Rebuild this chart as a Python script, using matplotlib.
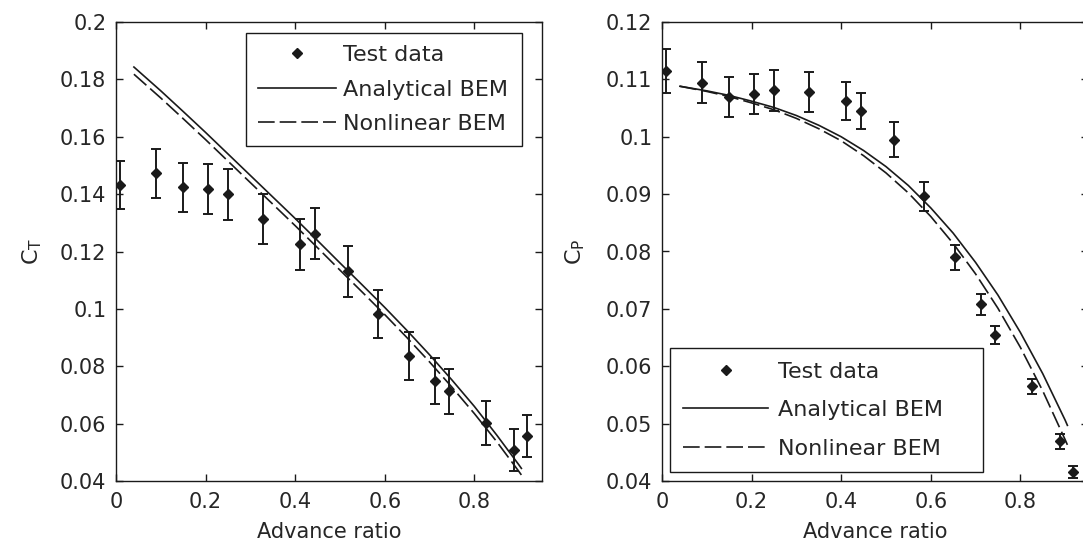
import matplotlib
matplotlib.use('Agg')
import matplotlib.pyplot as plt
from matplotlib.lines import Line2D
from matplotlib.ticker import FormatStrFormatter, MultipleLocator

plt.rcParams['font.family'] = ['DejaVu Sans']
plt.rcParams['font.size'] = 15
plt.rcParams['mathtext.default'] = 'regular'

# test data (advance ratio, coefficients, error half-widths)
adv_ratio = [0.008, 0.09, 0.15, 0.206, 0.251, 0.329, 0.41, 0.445, 0.517, 0.585,
             0.653, 0.713, 0.743, 0.826, 0.889, 0.918]
ct_test = [0.1432, 0.1472, 0.1424, 0.1418, 0.1399, 0.1313, 0.1225, 0.1262, 0.1131, 0.0983,
           0.0836, 0.0749, 0.0712, 0.0603, 0.0508, 0.0557]
ct_err = [0.0083, 0.0086, 0.0085, 0.0086, 0.0089, 0.0086, 0.0090, 0.0088, 0.0088, 0.0083,
          0.0085, 0.0081, 0.0080, 0.0077, 0.0073, 0.0073]
cp_test = [0.1115, 0.1094, 0.1069, 0.1074, 0.1081, 0.1078, 0.1062, 0.1045, 0.0995, 0.0896,
           0.0790, 0.0708, 0.0655, 0.0565, 0.0469, 0.0416]
cp_err = [0.0038, 0.0036, 0.0035, 0.0035, 0.0036, 0.0035, 0.0033, 0.0032, 0.0030, 0.0026,
          0.0022, 0.0018, 0.0016, 0.0013, 0.0013, 0.0011]

# BEM predictions
bem_ratio = [0.04, 0.1, 0.15, 0.2, 0.25, 0.3, 0.35, 0.4, 0.45, 0.5, 0.55, 0.6, 0.65, 0.7,
             0.75, 0.8, 0.85, 0.9, 0.905]
ct_analytical = [0.1843, 0.1760, 0.1688, 0.1615, 0.1540, 0.1465, 0.1390, 0.1315, 0.1238, 0.1160,
                 0.1083, 0.1005, 0.0924, 0.0840, 0.0752, 0.0660, 0.0560, 0.0455, 0.0444]
ct_nonlinear = [0.1818, 0.1735, 0.1663, 0.1590, 0.1515, 0.1440, 0.1365, 0.1290, 0.1213, 0.1135,
                0.1058, 0.0980, 0.0899, 0.0815, 0.0727, 0.0635, 0.0537, 0.0432, 0.0421]
cp_analytical = [0.1088, 0.1080, 0.1072, 0.1062, 0.1051, 0.1037, 0.1020, 0.1000, 0.0976, 0.0948,
                 0.0915, 0.0876, 0.0832, 0.0781, 0.0724, 0.0659, 0.0587, 0.0506, 0.0497]
cp_nonlinear = [0.1088, 0.1079, 0.1070, 0.1059, 0.1047, 0.1032, 0.1014, 0.0993, 0.0967, 0.0937,
                0.0902, 0.0861, 0.0814, 0.0761, 0.0701, 0.0633, 0.0557, 0.0472, 0.0463]

labels = ['Test data', 'Analytical BEM', 'Nonlinear BEM']
ink = '#1a1a1a'
txt = '#262626'

W, H = 1083, 547
fig = plt.figure(figsize=(W / 100, H / 100), dpi=100)
ax1 = fig.add_axes([116 / W, (H - 481) / H, 426 / W, 459 / H])
ax2 = fig.add_axes([662 / W, (H - 481) / H, 426 / W, 459 / H])


def draw(ax, test, err, ana, nonlin):
    ax.plot(bem_ratio, ana, color=ink, lw=1.2)
    ax.plot(bem_ratio, nonlin, color=ink, lw=1.2, dashes=[10, 3])
    ax.errorbar(adv_ratio, test, yerr=err, fmt='D', ms=4.8, color=ink, mfc=ink,
                ecolor=ink, elinewidth=1.4, capsize=3.5, capthick=1.4)
    ax.set_xlim(0, 0.951)
    ax.xaxis.set_major_locator(MultipleLocator(0.2))
    ax.xaxis.set_major_formatter(FormatStrFormatter('%g'))
    ax.yaxis.set_major_formatter(FormatStrFormatter('%g'))
    ax.tick_params(direction='in', top=True, right=True, length=5, width=1.0,
                   colors=ink, labelcolor=txt, labelsize=15)
    ax.tick_params(axis='x', pad=8)
    ax.tick_params(axis='y', pad=7)
    for s in ax.spines.values():
        s.set_color(ink)
        s.set_linewidth(1.0)
    ax.set_xlabel('Advance ratio', color=txt, labelpad=7)


draw(ax1, ct_test, ct_err, ct_analytical, ct_nonlinear)
ax1.set_ylim(0.04, 0.2)
ax1.yaxis.set_major_locator(MultipleLocator(0.02))
ax1.set_ylabel('$C_T$', color=txt, fontsize=16)
ax1.yaxis.set_label_coords(-0.17, 0.5)

draw(ax2, cp_test, cp_err, cp_analytical, cp_nonlinear)
ax2.set_ylim(0.04, 0.12)
ax2.yaxis.set_major_locator(MultipleLocator(0.01))
ax2.set_ylabel('$C_P$', color=txt, fontsize=16)
ax2.yaxis.set_label_coords(-0.176, 0.5)


def handles():
    return [Line2D([], [], ls='none', marker='D', ms=4.8, color=ink),
            Line2D([], [], color=ink, lw=1.2),
            Line2D([], [], color=ink, lw=1.2, dashes=[10, 3])]


leg1 = ax1.legend(handles(), labels, loc='upper right', bbox_to_anchor=(0.3052, 0, 0.648, 0.976),
                  mode='expand', borderaxespad=0, fancybox=False, framealpha=1, edgecolor=ink,
                  handlelength=3.5, handletextpad=0.3, labelspacing=0.65, borderpad=0.55,
                  fontsize=16, labelcolor=txt)
leg1.get_frame().set_linewidth(1.0)
leg2 = ax2.legend(handles(), labels, loc='lower left', bbox_to_anchor=(0.0188, 0.0196, 0.7347, 0.5),
                  mode='expand', borderaxespad=0, fancybox=False, framealpha=1, edgecolor=ink,
                  handlelength=3.8, handletextpad=0.47, labelspacing=0.83, borderpad=0.6,
                  fontsize=16, labelcolor=txt)
leg2.get_frame().set_linewidth(1.0)

fig.savefig('out.png', dpi=100)
